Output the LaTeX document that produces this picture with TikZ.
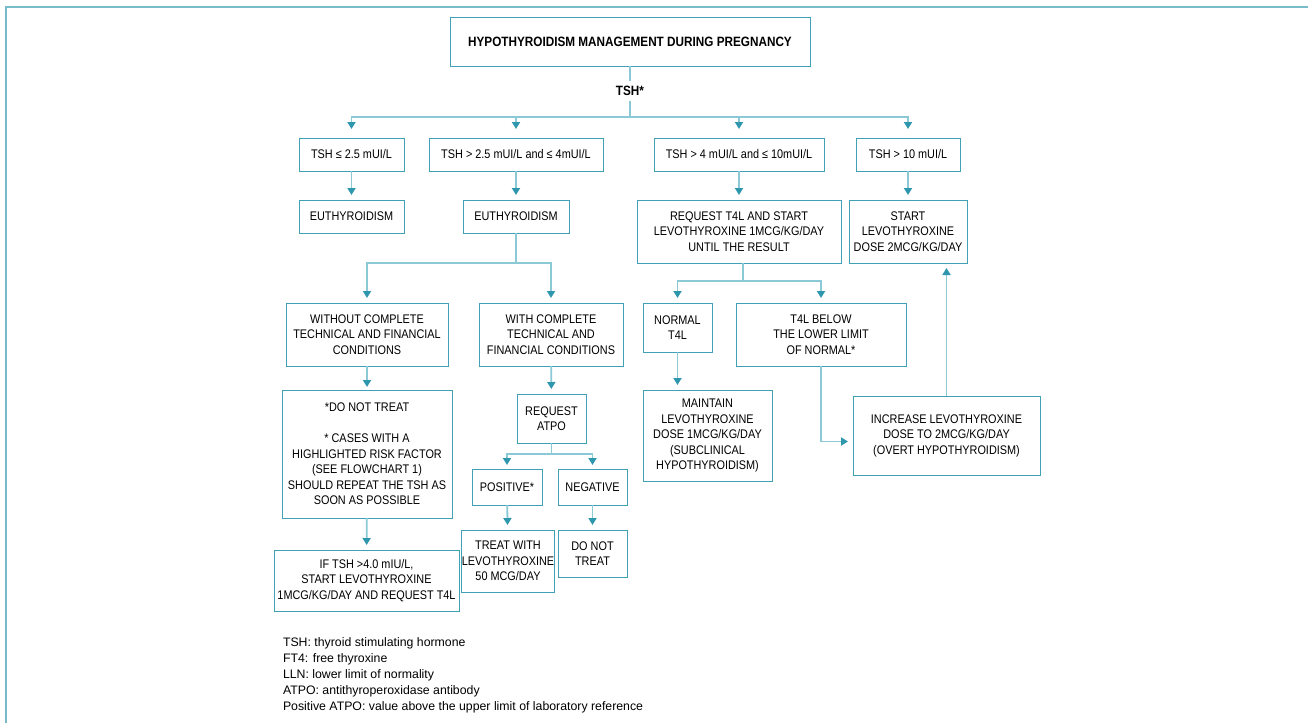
\documentclass[tikz,border=0pt]{standalone}
\usepackage{fontspec}
\setmainfont{Liberation Sans}[FakeStretch=0.87]
\newfontfamily\legendfont{Liberation Sans}
\usetikzlibrary{arrows.meta}
\definecolor{boxcol}{RGB}{64,160,182}
\definecolor{linecol}{RGB}{140,201,214}
\definecolor{tipcol}{RGB}{46,150,173}
\definecolor{framecol}{RGB}{120,188,204}
\begin{document}
\begin{tikzpicture}[x=1pt,y=-1pt,inner sep=0pt,outer sep=0pt,
stepbox/.style={draw=boxcol,rectangle,line width=1pt,align=center,font=\fontsize{12.5}{15.5}\selectfont},
conn/.style={draw=linecol,line width=1.8pt},
arr/.style={conn,shorten >=5pt,-{Triangle[color=tipcol,length=7pt,width=8pt]}}]
\useasboundingbox (0,0) rectangle (1308,723);
\draw[framecol,line width=2pt] (6,723) -- (6,7) -- (1308,7);
% title and first split
\draw (630,41.5) node[stepbox,minimum width=360pt,minimum height=49pt,font=\fontsize{13.5}{15.5}\bfseries] (title) {HYPOTHYROIDISM MANAGEMENT DURING PREGNANCY};
\draw (630,91) node[inner sep=5pt,font=\fontsize{13.5}{14}\bfseries] (tsh) {TSH*};
\coordinate (split1) at (630,117);
% TSH ranges
\draw (351.5,154.5) node[stepbox,minimum width=105pt,minimum height=33pt] (A1) {TSH ≤ 2.5 mUI/L};
\draw (516,154.5) node[stepbox,minimum width=174pt,minimum height=33pt] (A2) {TSH > 2.5 mUI/L and ≤ 4mUI/L};
\draw (739,154.5) node[stepbox,minimum width=170pt,minimum height=33pt] (A3) {TSH > 4 mUI/L and ≤ 10mUI/L};
\draw (908,154.5) node[stepbox,minimum width=104pt,minimum height=33pt] (A4) {TSH > 10 mUI/L};
\draw (351.5,216.5) node[stepbox,minimum width=105pt,minimum height=33pt] (B1) {EUTHYROIDISM};
\draw (516,216.5) node[stepbox,minimum width=106pt,minimum height=33pt] (B2) {EUTHYROIDISM};
\draw (739,231.5) node[stepbox,minimum width=204pt,minimum height=63pt] (B3) {REQUEST T4L AND START\\LEVOTHYROXINE 1MCG/KG/DAY\\UNTIL THE RESULT};
\draw (908,231.5) node[stepbox,minimum width=118pt,minimum height=63pt] (B4) {START\\LEVOTHYROXINE\\DOSE 2MCG/KG/DAY};
% euthyroidism branch
\coordinate (split2) at (516,263);
\draw (367,334.5) node[stepbox,minimum width=162pt,minimum height=63pt] (C1) {WITHOUT COMPLETE\\TECHNICAL AND FINANCIAL\\CONDITIONS};
\draw (551,334.5) node[stepbox,minimum width=144pt,minimum height=63pt] (C2) {WITH COMPLETE\\TECHNICAL AND\\FINANCIAL CONDITIONS};
\draw (367,454) node[stepbox,minimum width=170pt,minimum height=128pt] (D1) {*DO NOT TREAT\\[15.5pt]* CASES WITH A\\HIGHLIGHTED RISK FACTOR\\(SEE FLOWCHART 1)\\SHOULD REPEAT THE TSH AS\\SOON AS POSSIBLE};
\draw (551.5,418.5) node[stepbox,minimum width=69pt,minimum height=49pt] (D2) {REQUEST\\ATPO};
\coordinate (split3) at (551.5,454);
\draw (507,487) node[stepbox,minimum width=70pt,minimum height=36pt] (E1) {POSITIVE*};
\draw (592.5,487) node[stepbox,minimum width=69pt,minimum height=36pt] (E2) {NEGATIVE};
\draw (508,561) node[stepbox,minimum width=90pt,minimum height=62pt] (F1) {TREAT WITH\\LEVOTHYROXINE\\50 MCG/DAY};
\draw (592.5,553.5) node[stepbox,minimum width=69pt,minimum height=47pt] (F2) {DO NOT\\TREAT};
\draw (366.5,580.5) node[stepbox,minimum width=185pt,minimum height=61pt] (G1) {IF TSH >4.0 mIU/L,\\START LEVOTHYROXINE\\1MCG/KG/DAY AND REQUEST T4L};
% subclinical branch
\coordinate (split4) at (743,281);
\draw (677.5,327.5) node[stepbox,minimum width=69pt,minimum height=49pt] (H1) {NORMAL\\T4L};
\draw (821,334.5) node[stepbox,minimum width=170pt,minimum height=63pt] (H2) {T4L BELOW\\THE LOWER LIMIT\\OF NORMAL*};
\draw (707.5,435.5) node[stepbox,minimum width=129pt,minimum height=91pt] (I1) {MAINTAIN\\LEVOTHYROXINE\\DOSE 1MCG/KG/DAY\\(SUBCLINICAL\\HYPOTHYROIDISM)};
\draw (946.5,435.5) node[stepbox,minimum width=187pt,minimum height=79pt] (I2) {INCREASE LEVOTHYROXINE\\DOSE TO 2MCG/KG/DAY\\(OVERT HYPOTHYROIDISM)};
% legend
\draw (283,638) node[anchor=north west,align=left,font=\legendfont\fontsize{12.3}{16}\selectfont] (legend) {TSH: thyroid stimulating hormone\\FT4: free thyroxine\\LLN: lower limit of normality\\ATPO: antithyroperoxidase antibody\\Positive ATPO: value above the upper limit of laboratory reference};
% connectors
\draw[conn] (title) -- (tsh);
\draw[conn] (tsh) -- (split1);
\draw[arr,shorten >=9pt] (split1) -| (A1);
\draw[arr,shorten >=9pt] (split1) -| (A2);
\draw[arr,shorten >=9pt] (split1) -| (A3);
\draw[arr,shorten >=9pt] (split1) -| (A4);
\draw[arr] (A1) -- (B1);
\draw[arr] (A2) -- (B2);
\draw[arr] (A3) -- (B3);
\draw[arr] (A4) -- (B4);
\draw[conn] (B2) -- (split2);
\draw[arr] (split2) -| (C1);
\draw[arr] (split2) -| (C2);
\draw[arr,shorten >=3pt] (C1) -- (D1);
\draw[arr] (C2) -- (D2);
\draw[conn] (D2) -- (split3);
\draw[arr,shorten >=4pt] (split3) -| (E1);
\draw[arr,shorten >=4pt] (split3) -| (E2);
\draw[arr] (E1) -- (F1);
\draw[arr] (E2) -- (F2);
\draw[arr] (D1) -- (G1);
\draw[conn] (B3.south -| split4) -- (split4);
\draw[arr] (split4) -| (H1);
\draw[arr] (split4) -| (H2);
\draw[arr] (H1.south) -- (H1.south |- I1.north);
\draw[arr] (H2.south) |- ([yshift=-6pt]I2.west);
\draw[arr] (I2.north) -- (I2.north |- B4.south);
\end{tikzpicture}
\end{document}
